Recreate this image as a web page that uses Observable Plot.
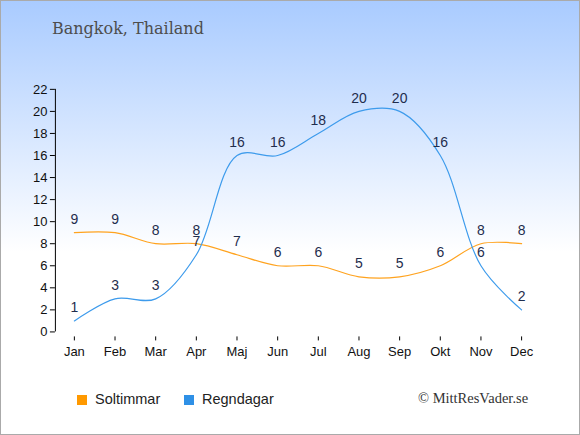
<!DOCTYPE html>
<html><head><meta charset="utf-8">
<script src="https://cdn.jsdelivr.net/npm/d3@7"></script>
<script src="https://cdn.jsdelivr.net/npm/@observablehq/plot@0.6"></script>
<style>
html,body{margin:0;padding:0;}
#wrap{position:relative;width:578px;height:433px;border:1px solid #aaa;background:linear-gradient(to bottom,#a9cbff 0%,#ffffff 58%,#ffffff 100%);overflow:hidden;}
#title{position:absolute;left:51px;top:18px;font-family:"DejaVu Serif",serif;font-size:16px;color:#4d4d4d;}
#chart{position:absolute;left:-1px;top:-1px;}
.leg{position:absolute;top:390px;font-family:"Liberation Sans",Arial,sans-serif;font-size:14.5px;color:#222;}
.sw{display:inline-block;width:10px;height:10px;margin-right:8px;vertical-align:-1px;}
#copy{position:absolute;left:417px;top:389px;font-family:"Liberation Serif",serif;font-size:14.5px;color:#333;}
</style></head>
<body>
<div id="wrap">
<div id="title">Bangkok, Thailand</div>
<div id="chart"></div>
<div class="leg" style="left:76px"><span class="sw" style="background:#ff9900"></span>Soltimmar</div>
<div class="leg" style="left:183px"><span class="sw" style="background:#2f90e6"></span>Regndagar</div>
<div id="copy">© MittResVader.se</div>
</div>
<script>
const months = ["Jan","Feb","Mar","Apr","Maj","Jun","Jul","Aug","Sep","Okt","Nov","Dec"];
const soltimmar = [9,9,8,8,7,6,6,5,5,6,8,8];
const regndagar = [1,3,3,7,16,16,18,20,20,16,6,2];
const yTicks = [0,2,4,6,8,10,12,14,16,18,20,22];

const sun = months.map((m,i)=>({m, v: soltimmar[i]}));
const rain = months.map((m,i)=>({m, v: regndagar[i]}));

// y=0 at 332px, y=22 at 89px; frame bottom at 341px
const pxPerUnit = (332-89)/22;
const yMin = -(341-332)/pxPerUnit;

const chart = Plot.plot({
  width: 580, height: 435,
  marginLeft: 74, marginRight: 58, marginTop: 89, marginBottom: 94,
  style: {background: "transparent", fontFamily: "Liberation Sans, Arial, sans-serif"},
  x: {type: "point", domain: months, padding: 0, round: false},
  y: {domain: [yMin, 22]},
  marks: [
    Plot.ruleX([months[0]], {x: d=>d, y1: 0, y2: 22, dx: -19, stroke: "#000"}),
    Plot.axisY(yTicks, {anchor: "left", dx: -19, tickSize: 5, tickPadding: 3, fontSize: 13, fill: "#111", stroke: "#000", label: null}),
    Plot.ruleY([yMin], {x1: months[0], x2: months[11], stroke: "#000"}),
    Plot.axisX(months, {anchor: "bottom", tickSize: -4, tickPadding: 10, fontSize: 13, fill: "#111", stroke: "#000", label: null}),
    Plot.line(sun, {x: "m", y: "v", stroke: "#ffa31f", strokeWidth: 1.2, curve: "catmull-rom"}),
    Plot.line(rain, {x: "m", y: "v", stroke: "#3d9bec", strokeWidth: 1.2, curve: "catmull-rom"}),
    Plot.text(sun, {x: "m", y: "v", text: d=>String(d.v), dy: -13, fontSize: 14, fill: "#1f2d4d"}),
    Plot.text(rain, {x: "m", y: "v", text: d=>String(d.v), dy: -13, fontSize: 14, fill: "#1f2d4d"})
  ]
});
document.getElementById("chart").appendChild(chart);
</script>
</body></html>
